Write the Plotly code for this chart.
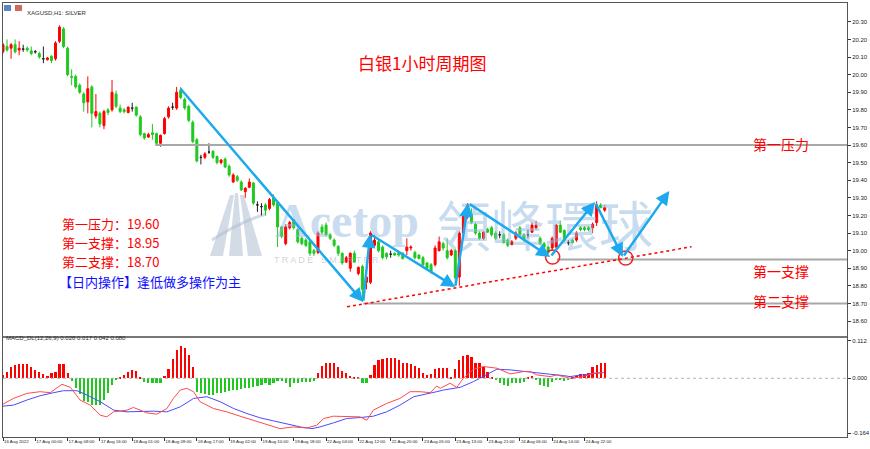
import plotly.graph_objects as go

# ---------------- data ----------------
tick_bars = [0, 8, 16, 24, 32, 40, 48, 56, 64, 72, 80, 88, 96, 104, 112, 120, 128, 136, 144]
tick_labels = ["16 Aug 2022", "17 Aug 00:00", "17 Aug 08:00", "17 Aug 16:00", "18 Aug 01:00",
               "18 Aug 09:00", "18 Aug 17:00", "19 Aug 02:00", "19 Aug 10:00", "19 Aug 18:00",
               "22 Aug 04:00", "22 Aug 12:00", "22 Aug 20:00", "23 Aug 05:00", "23 Aug 13:00",
               "23 Aug 21:00", "24 Aug 06:00", "24 Aug 14:00", "24 Aug 22:00"]

ohlc = [
    (20.13, 20.18, 20.12, 20.17), (20.16, 20.20, 20.13, 20.14), (20.15, 20.18, 20.09, 20.17),
    (20.17, 20.20, 20.12, 20.13), (20.14, 20.19, 20.11, 20.15), (20.145, 20.17, 20.13, 20.145),
    (20.15, 20.16, 20.13, 20.14), (20.135, 20.16, 20.11, 20.12), (20.13, 20.14, 20.12, 20.13),
    (20.12, 20.13, 20.09, 20.10), (20.09, 20.16, 20.065, 20.09), (20.085, 20.10, 20.08, 20.095),
    (20.105, 20.11, 20.065, 20.08), (20.09, 20.19, 20.08, 20.18), (20.19, 20.28, 20.18, 20.27),
    (20.26, 20.27, 20.15, 20.16), (20.15, 20.16, 19.99, 20.00), (19.99, 20.03, 19.94, 19.985),
    (19.99, 20.00, 19.92, 19.93), (19.94, 19.95, 19.89, 19.90), (19.89, 19.90, 19.79, 19.84),
    (19.845, 19.99, 19.78, 19.92), (19.93, 19.94, 19.70, 19.78), (19.765, 19.89, 19.75, 19.79),
    (19.78, 19.79, 19.70, 19.72), (19.71, 19.80, 19.69, 19.79), (19.80, 19.81, 19.77, 19.785),
    (19.80, 19.97, 19.79, 19.90), (19.89, 19.91, 19.81, 19.82), (19.81, 19.83, 19.78, 19.79),
    (19.80, 19.81, 19.78, 19.79), (19.785, 19.82, 19.78, 19.815), (19.81, 19.84, 19.79, 19.81),
    (19.815, 19.82, 19.76, 19.77), (19.76, 19.77, 19.65, 19.66), (19.665, 19.67, 19.63, 19.64),
    (19.645, 19.67, 19.64, 19.66), (19.67, 19.72, 19.63, 19.66), (19.665, 19.67, 19.60, 19.61),
    (19.61, 19.66, 19.59, 19.655), (19.665, 19.76, 19.66, 19.75), (19.76, 19.82, 19.75, 19.81),
    (19.815, 19.84, 19.80, 19.815), (19.81, 19.93, 19.80, 19.90), (19.91, 19.93, 19.86, 19.87),
    (19.86, 19.87, 19.80, 19.81), (19.82, 19.83, 19.73, 19.74), (19.73, 19.74, 19.61, 19.62),
    (19.63, 19.64, 19.50, 19.51), (19.53, 19.545, 19.49, 19.53), (19.53, 19.56, 19.52, 19.55),
    (19.56, 19.61, 19.55, 19.56), (19.565, 19.57, 19.52, 19.53), (19.535, 19.54, 19.49, 19.50),
    (19.50, 19.52, 19.49, 19.515), (19.52, 19.53, 19.47, 19.475), (19.48, 19.49, 19.42, 19.43),
    (19.39, 19.44, 19.385, 19.43), (19.42, 19.43, 19.39, 19.40), (19.39, 19.40, 19.34, 19.345),
    (19.335, 19.36, 19.30, 19.355), (19.36, 19.41, 19.355, 19.39), (19.385, 19.39, 19.26, 19.27),
    (19.26, 19.28, 19.22, 19.26), (19.25, 19.27, 19.20, 19.25), (19.26, 19.27, 19.20, 19.23),
    (19.24, 19.30, 19.23, 19.29), (19.30, 19.32, 19.25, 19.26), (19.27, 19.28, 19.02, 19.135),
    (19.135, 19.14, 19.07, 19.08), (19.04, 19.15, 19.03, 19.135), (19.13, 19.17, 19.12, 19.16),
    (19.175, 19.18, 19.12, 19.13), (19.12, 19.13, 19.04, 19.05), (19.07, 19.08, 19.03, 19.04),
    (19.06, 19.07, 19.02, 19.03), (19.05, 19.06, 18.97, 18.985), (19.00, 19.01, 18.97, 18.985),
    (18.99, 19.11, 18.98, 19.10), (19.135, 19.15, 19.09, 19.105), (19.145, 19.16, 19.08, 19.09),
    (19.09, 19.10, 19.06, 19.07), (19.06, 19.07, 19.02, 19.03), (19.025, 19.03, 18.97, 18.985),
    (18.985, 18.99, 18.92, 18.93), (18.935, 18.97, 18.93, 18.96), (18.90, 18.99, 18.88, 18.985),
    (18.985, 19.00, 18.93, 18.935), (18.87, 18.91, 18.86, 18.905), (18.91, 18.92, 18.71, 18.78),
    (18.82, 18.86, 18.78, 18.85), (18.82, 19.11, 18.81, 19.10), (19.03, 19.09, 19.02, 19.06),
    (19.05, 19.06, 18.99, 19.00), (19.02, 19.03, 18.95, 18.96), (18.985, 18.99, 18.95, 18.965),
    (18.98, 19.00, 18.96, 18.98), (18.985, 18.99, 18.97, 18.975), (18.99, 19.00, 18.965, 18.975),
    (18.985, 18.99, 18.95, 18.955), (19.00, 19.07, 18.975, 19.02), (19.015, 19.03, 19.00, 19.02),
    (18.99, 19.00, 18.95, 18.96), (18.975, 18.98, 18.95, 18.955), (18.96, 18.97, 18.91, 18.92),
    (18.93, 18.935, 18.89, 18.90), (18.92, 18.93, 18.87, 18.88), (18.92, 19.03, 18.91, 19.015),
    (19.00, 19.08, 18.995, 19.05), (19.04, 19.05, 19.00, 19.015), (19.00, 19.07, 18.95, 18.96),
    (18.975, 19.01, 18.97, 19.00), (19.00, 19.01, 18.80, 18.845), (18.85, 19.11, 18.80, 19.10),
    (19.10, 19.21, 19.09, 19.20), (19.19, 19.27, 19.18, 19.26), (19.21, 19.24, 19.15, 19.16),
    (19.15, 19.16, 19.09, 19.10), (19.10, 19.11, 19.06, 19.07), (19.07, 19.11, 19.06, 19.105),
    (19.12, 19.13, 19.10, 19.105), (19.13, 19.14, 19.08, 19.09), (19.10, 19.11, 19.06, 19.07),
    (19.09, 19.11, 19.07, 19.09), (19.09, 19.10, 19.04, 19.045), (19.06, 19.07, 19.02, 19.03),
    (19.035, 19.06, 19.03, 19.05), (19.07, 19.11, 19.06, 19.10), (19.13, 19.14, 19.08, 19.09),
    (19.09, 19.10, 19.05, 19.06), (19.09, 19.12, 19.07, 19.09), (19.105, 19.16, 19.10, 19.145),
    (19.13, 19.17, 19.12, 19.145), (19.07, 19.08, 19.03, 19.04), (19.04, 19.05, 19.01, 19.02),
    (19.02, 19.03, 18.98, 18.99), (19.015, 19.08, 19.00, 19.07), (19.02, 19.15, 19.01, 19.145),
    (19.145, 19.17, 19.10, 19.105), (19.115, 19.12, 19.05, 19.06), (19.045, 19.06, 19.03, 19.045),
    (19.06, 19.07, 19.04, 19.045), (19.06, 19.11, 19.05, 19.10), (19.13, 19.14, 19.11, 19.12),
    (19.13, 19.14, 19.11, 19.12), (19.13, 19.14, 19.11, 19.12), (19.13, 19.16, 19.10, 19.15),
    (19.16, 19.28, 19.14, 19.26), (19.26, 19.27, 19.24, 19.245), (19.23, 19.26, 19.22, 19.245),
]

macd_hist = [
    0.010, 0.020, 0.035, 0.040, 0.042, 0.042, 0.042, 0.033, 0.025, 0.018,
    0.012, 0.007, 0.015, 0.020, 0.043, 0.042, 0.015, -0.007, -0.030, -0.047,
    -0.068, -0.070, -0.080, -0.080, -0.080, -0.065, -0.045, -0.020, -0.005, 0.005,
    0.010, 0.020, 0.025, 0.023, 0.003, -0.010, -0.015, -0.015, -0.015, -0.013,
    0.007, 0.027, 0.057, 0.083, 0.095, 0.090, 0.070, 0.035, -0.040, -0.045,
    -0.048, -0.050, -0.050, -0.045, -0.043, -0.040, -0.037, -0.035, -0.035, -0.033,
    -0.030, -0.030, -0.025, -0.023, -0.020, -0.015, -0.020, -0.015, -0.007, -0.007,
    -0.013, -0.025, -0.015, -0.013, -0.010, -0.010, -0.010, -0.007, 0.015, 0.037,
    0.047, 0.047, 0.045, 0.035, 0.023, 0.017, 0.007, 0.003, 0.001, -0.015,
    -0.015, 0.010, 0.040, 0.053, 0.057, 0.059, 0.060, 0.060, 0.055, 0.047,
    0.045, 0.042, 0.037, 0.030, 0.017, 0.009, 0.013, 0.027, 0.032, 0.032,
    0.030, 0.005, 0.027, 0.055, 0.065, 0.070, 0.063, 0.047, 0.045, 0.033,
    0.020, 0.005, -0.005, -0.015, -0.020, -0.023, -0.015, -0.013, -0.013, -0.010,
    0.005, 0.007, -0.003, -0.020, -0.023, -0.027, -0.010, -0.003, -0.005, -0.007,
    -0.003, 0.005, 0.008, 0.012, 0.013, 0.017, 0.035, 0.039, 0.045, 0.047,
]

macd_line_bars = [0, 2.6, 5.9, 9.2, 11.7, 14.6, 16.7, 19.1, 21.6, 24.1, 25.7, 27.4, 30.7, 32.3,
                  35.6, 38.1, 40.6, 42.2, 43.9, 45.5, 47.2, 48.8, 52.1, 55.4, 58.7, 62, 65.3,
                  68.6, 71.9, 75.2, 77.7, 79.4, 81.8, 85.1, 88.4, 90.1, 91.7, 95, 98.3, 100.8,
                  103.3, 105.8, 107.4, 108.3, 110.7, 112.4, 114, 116.5, 119, 122.3, 125.6,
                  128.9, 130.5, 132.2, 135.5, 137.1, 140.4, 143.7, 146.2, 148.7]
macd_line_vals = [-0.077, -0.060, -0.045, -0.040, -0.043, -0.018, -0.027, -0.065, -0.080, -0.110,
                  -0.115, -0.100, -0.095, -0.087, -0.103, -0.107, -0.090, -0.060, -0.035, -0.030,
                  -0.040, -0.070, -0.090, -0.100, -0.113, -0.125, -0.138, -0.150, -0.145, -0.148,
                  -0.140, -0.120, -0.113, -0.115, -0.115, -0.125, -0.095, -0.075, -0.060, -0.040,
                  -0.040, -0.043, -0.023, -0.030, -0.015, -0.027, 0.000, 0.027, 0.035, 0.030,
                  0.013, 0.020, 0.020, 0.010, 0.005, 0.010, 0.000, 0.005, 0.015, 0.017]

signal_bars = [0, 2.6, 5.9, 9.2, 12.5, 15, 18.3, 20.8, 24.1, 27.4, 30.7, 34, 37.3, 40.6, 43.9,
               47.2, 50.5, 53.8, 57.1, 60.4, 63.7, 67, 70.3, 73.6, 76.5, 78.5, 81.8, 85.1, 88.4,
               91.7, 95, 98.3, 101.7, 105, 107.4, 109.1, 113.2, 116.5, 119, 122.3, 125.6, 128.9,
               132.2, 135.5, 138.8, 140.4, 144.6, 148.7]
signal_vals = [-0.083, -0.080, -0.065, -0.052, -0.043, -0.037, -0.037, -0.050, -0.070, -0.095,
               -0.100, -0.098, -0.098, -0.100, -0.085, -0.060, -0.055, -0.070, -0.090, -0.105,
               -0.118, -0.127, -0.137, -0.145, -0.150, -0.145, -0.133, -0.120, -0.117, -0.113,
               -0.100, -0.080, -0.055, -0.045, -0.040, -0.035, -0.027, -0.010, 0.005, 0.027,
               0.025, 0.020, 0.015, 0.012, 0.008, 0.005, 0.012, 0.017]

# analysis drawings (bar index, price)
zigzag_bars = [43.6, 89.2, 90.9, 112.0, 115.2, 135.5, 146.6, 153.5, 165.0]
zigzag_prices = [19.93, 18.708, 19.094, 18.793, 19.27, 18.964, 19.276, 18.964, 19.339]
trend_bars = [85.2, 170.5]
trend_prices = [18.681, 19.022]
circle_bars = [136.1, 154.2]
circle_prices = [18.964, 18.958]
level_prices = [19.60, 18.95, 18.70]
level_start_bars = [37.7, 137.2, 89.2]
level_names = ["第一压力", "第一支撑", "第二支撑"]
info_lines = ["第一压力：19.60", "第一支撑：18.95", "第二支撑：18.70"]
advice = "【日内操作】逢低做多操作为主"
title_text = "白银1小时周期图"
macd_label = "MACD_DL(12,26,9) 0.028 0.017 0.042 0.080"
symbol_label = "XAGUSD,H1: SILVER"
price_ticks = [18.6, 18.7, 18.8, 18.9, 19.0, 19.1, 19.2, 19.3, 19.4, 19.5, 19.6, 19.7, 19.8,
               19.9, 20.0, 20.1, 20.2, 20.3]
macd_ticks = [0.112, 0.0, -0.164]

# ---------------- geometry ----------------
W, H = 870, 449
ML, MR, MT, MB = 3, 23, 3, 12
PW, PH = W - ML - MR, H - MT - MB
N_VIEW = 209


def pxx(px):
    return (px - ML) / PW


def pxy(py):
    return (H - MB - py) / PH


RED = "#ff0000"
GREEN = "#1fc81f"
CJK = "Noto Sans CJK SC"
SMALL = "Liberation Sans Narrow, Liberation Sans, Arial"

bars = list(range(len(ohlc)))
nd = [i for i in bars if ohlc[i][0] != ohlc[i][3]]
dj = [i for i in bars if ohlc[i][0] == ohlc[i][3]]

fig = go.Figure()
fig.add_trace(go.Candlestick(
    x=nd, open=[ohlc[i][0] for i in nd], high=[ohlc[i][1] for i in nd],
    low=[ohlc[i][2] for i in nd], close=[ohlc[i][3] for i in nd],
    increasing=dict(line=dict(color=RED, width=1), fillcolor=RED),
    decreasing=dict(line=dict(color=GREEN, width=1), fillcolor=GREEN),
    whiskerwidth=0, xaxis="x", yaxis="y", showlegend=False, hoverinfo="skip"))
fig.add_trace(go.Candlestick(
    x=dj, open=[ohlc[i][0] for i in dj], high=[ohlc[i][1] for i in dj],
    low=[ohlc[i][2] for i in dj], close=[ohlc[i][3] for i in dj],
    increasing=dict(line=dict(color="#202020", width=1), fillcolor="#202020"),
    decreasing=dict(line=dict(color="#202020", width=1), fillcolor="#202020"),
    whiskerwidth=0, xaxis="x", yaxis="y", showlegend=False, hoverinfo="skip"))

fig.add_trace(go.Bar(x=bars, y=macd_hist, width=0.55,
                     marker=dict(color=[RED if v > 0 else GREEN for v in macd_hist], line=dict(width=0)),
                     xaxis="x2", yaxis="y2", showlegend=False, hoverinfo="skip"))
fig.add_trace(go.Scatter(x=signal_bars, y=signal_vals, mode="lines", line=dict(color="#4a4aff", width=1),
                         xaxis="x2", yaxis="y2", showlegend=False, hoverinfo="skip"))
fig.add_trace(go.Scatter(x=macd_line_bars, y=macd_line_vals, mode="lines", line=dict(color="#ff4a4a", width=1),
                         xaxis="x2", yaxis="y2", showlegend=False, hoverinfo="skip"))

shapes = []
# logo (watermark) below candles
logo_col = "rgba(175,190,210,0.55)"
logo_paths = [
    [(210, 256), (230, 195), (234, 195), (223, 256)],
    [(229, 256), (235, 193), (238, 193), (243, 256)],
    [(248, 256), (240, 195), (244, 195), (262, 256)],
]
for pts in logo_paths:
    d = "M " + " L ".join(f"{pxx(a):.5f},{pxy(b):.5f}" for a, b in pts) + " Z"
    shapes.append(dict(type="path", xref="paper", yref="paper", path=d, fillcolor=logo_col,
                       line=dict(width=0), layer="below"))
shapes.append(dict(type="path", xref="paper", yref="paper",
                   path=f"M {pxx(212):.5f},{pxy(240):.5f} Q {pxx(240):.5f},{pxy(222):.5f} {pxx(266):.5f},{pxy(214):.5f}",
                   line=dict(color="rgba(175,190,210,0.55)", width=3), layer="below"))

for p, s in zip(level_prices, level_start_bars):
    shapes.append(dict(type="line", xref="x", yref="y", x0=s, x1=N_VIEW, y0=p, y1=p,
                       line=dict(color="#a8a8a8", width=2)))
shapes.append(dict(type="line", xref="x", yref="y", x0=trend_bars[0], x1=trend_bars[1],
                   y0=trend_prices[0], y1=trend_prices[1], line=dict(color=RED, width=1.5, dash="dot")))
rx, ry = 1.75, 0.040
for cx, cy in zip(circle_bars, circle_prices):
    shapes.append(dict(type="circle", xref="x", yref="y", x0=cx - rx, x1=cx + rx, y0=cy - ry, y1=cy + ry,
                       line=dict(color="#ee2222", width=1.5)))
shapes.append(dict(type="line", xref="x2", yref="y2", x0=0, x1=N_VIEW, y0=0, y1=0,
                   line=dict(color="#b0b0b0", width=1, dash="dot")))
# panel separator
shapes.append(dict(type="line", xref="paper", yref="paper", x0=0, x1=1, y0=pxy(337), y1=pxy(337),
                   line=dict(color="#777777", width=2)))
# header icons
for x0, col in [(4, "#5a86c8"), (15, "#d06a5a")]:
    shapes.append(dict(type="rect", xref="paper", yref="paper", x0=pxx(x0), x1=pxx(x0 + 7),
                       y0=pxy(11), y1=pxy(5), fillcolor=col, line=dict(width=0)))

ann = []
wm = "rgba(150,188,225,0.52)"
ann.append(dict(x=pxx(347), y=pxy(220), xref="paper", yref="paper", text="Acetop", showarrow=False,
                font=dict(family="Liberation Serif", size=48, color=wm, weight="bold")))
ann.append(dict(x=pxx(545), y=pxy(224), xref="paper", yref="paper", text="領峰環球", showarrow=False,
                font=dict(family="Noto Sans CJK TC", size=54, color=wm)))
ann.append(dict(x=pxx(326), y=pxy(260), xref="paper", yref="paper", text="T R A D E   S M A R T E R",
                showarrow=False, font=dict(family="Liberation Sans", size=9, color="rgba(170,180,195,0.6)")))

for k in range(len(zigzag_bars) - 1):
    ann.append(dict(x=zigzag_bars[k + 1], y=zigzag_prices[k + 1], ax=zigzag_bars[k], ay=zigzag_prices[k],
                    xref="x", yref="y", axref="x", ayref="y", text="", showarrow=True,
                    arrowhead=2, arrowsize=1.1, arrowwidth=2.5, arrowcolor="#1ca9ee", standoff=0))

ann.append(dict(x=pxx(422), y=pxy(48), xref="paper", yref="paper", text=title_text, showarrow=False,
                font=dict(family=CJK, size=17, color=RED)))
for name, yy in zip(level_names, [132, 271, 313]):
    ann.append(dict(x=pxx(811), y=pxy(yy), xref="paper", yref="paper", text=name, showarrow=False,
                    font=dict(family=CJK, size=14, color=RED)))
for t, yy in zip(info_lines, [223, 242.3, 261.6]):
    ann.append(dict(x=pxx(61), y=pxy(yy), xref="paper", yref="paper", text=t, showarrow=False,
                    xanchor="left", borderpad=0, font=dict(family=CJK, size=13, color=RED)))
ann.append(dict(x=pxx(58), y=pxy(281), xref="paper", yref="paper", text=advice, showarrow=False,
                xanchor="left", borderpad=0, font=dict(family=CJK, size=13, color="#1010ff")))
ann.append(dict(x=pxx(25), y=pxy(8), xref="paper", yref="paper", text=symbol_label, showarrow=False,
                xanchor="left", font=dict(family=SMALL, size=6, color="#303030")))
ann.append(dict(x=pxx(4), y=pxy(343), xref="paper", yref="paper", text=macd_label, showarrow=False,
                xanchor="left", font=dict(family=SMALL, size=6, color="#303030")))

axis_common = dict(showgrid=False, zeroline=False, showline=True, mirror=True, linecolor="#555555",
                   linewidth=1, automargin=False)
fig.update_layout(
    width=W, height=H, margin=dict(l=ML, r=MR, t=MT, b=MB, autoexpand=False),
    paper_bgcolor="white", plot_bgcolor="white", showlegend=False,
    shapes=shapes, annotations=ann, bargap=0,
    xaxis=dict(domain=[0, 1], anchor="y", range=[0, N_VIEW], showticklabels=False, ticks="",
               rangeslider=dict(visible=False), **axis_common),
    yaxis=dict(domain=[pxy(336), 1], anchor="x", side="right", range=[18.515, 20.407],
               tickvals=price_ticks, tickformat=".2f", ticks="outside", ticklen=3, tickcolor="#333",
               tickfont=dict(family=SMALL, size=6, color="#222"), **axis_common),
    xaxis2=dict(domain=[0, 1], anchor="y2", matches="x", range=[0, N_VIEW], tickvals=tick_bars,
                ticktext=tick_labels, ticks="outside", ticklen=3, tickcolor="#333", tickangle=0,
                ticklabelposition="outside right",
                tickfont=dict(family=SMALL, size=4.4, color="#222"), rangeslider=dict(visible=False),
                **axis_common),
    yaxis2=dict(domain=[0, pxy(338)], anchor="x2", side="right", range=[-0.175, 0.120],
                tickvals=macd_ticks, ticktext=["0.112", "0.000", "-0.164"], ticks="outside", ticklen=3,
                tickcolor="#333", tickfont=dict(family=SMALL, size=6, color="#222"), **axis_common),
)

fig.write_html("out.html")
